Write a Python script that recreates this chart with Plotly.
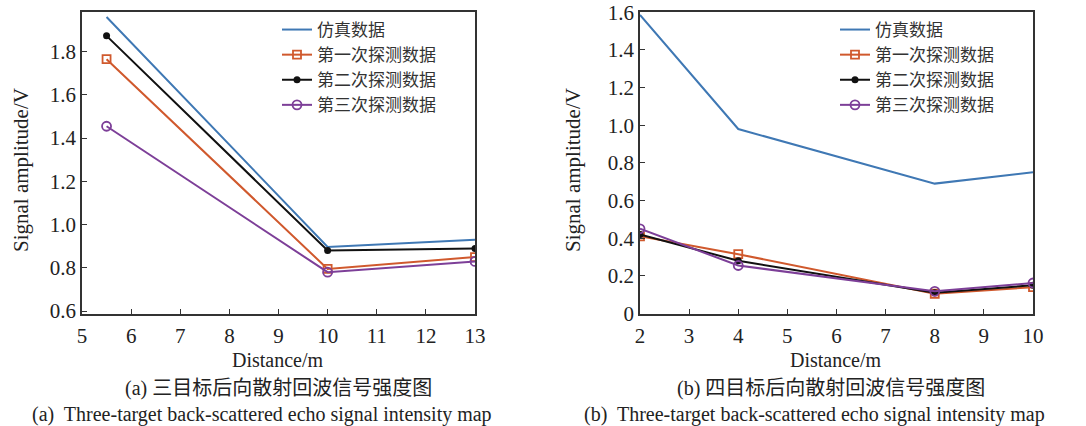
import plotly.graph_objects as go

# ---- data ----
names = ["仿真数据", "第一次探测数据", "第二次探测数据", "第三次探测数据"]

a_x = [5.5, 10, 13]
a_sim = [1.96, 0.897, 0.93]
a_first = [1.765, 0.795, 0.85]
a_second = [1.873, 0.88, 0.89]
a_third = [1.455, 0.78, 0.83]

b_x = [2, 4, 8, 10]
b_sim = [1.586, 0.98, 0.69, 0.75]
b_first = [0.41, 0.315, 0.105, 0.14]
b_second = [0.42, 0.28, 0.11, 0.15]
b_third = [0.45, 0.255, 0.118, 0.162]

a_yticks = [0.6, 0.8, 1.0, 1.2, 1.4, 1.6, 1.8]
a_yticktext = ["0.6", "0.8", "1.0", "1.2", "1.4", "1.6", "1.8"]
b_yticks = [0, 0.2, 0.4, 0.6, 0.8, 1.0, 1.2, 1.4, 1.6]
b_yticktext = ["0", "0.2", "0.4", "0.6", "0.8", "1.0", "1.2", "1.4", "1.6"]

cap_a_cn = "(a) 三目标后向散射回波信号强度图"
cap_a_en = "(a)  Three-target back-scattered echo signal intensity map"
cap_b_cn = "(b) 四目标后向散射回波信号强度图"
cap_b_en = "(b)  Three-target back-scattered echo signal intensity map"

# ---- styles ----
colors = ["#3f78b4", "#d0592d", "#111111", "#7d3f98"]
markers = [None,
           dict(symbol="square-open", size=8, color=colors[1], line=dict(width=1.8)),
           dict(symbol="circle", size=7, color=colors[2]),
           dict(symbol="circle-open", size=9, color=colors[3], line=dict(width=1.8))]
FONT = "'Liberation Serif', 'Times New Roman', serif"
CJK = "'Liberation Serif', 'Noto Sans CJK SC', serif"
W, H = 1086, 426

fig = go.Figure()

def add_series(xs, ys_list, xa, ya, legend):
    for i, ys in enumerate(ys_list):
        kw = dict(mode="lines" if markers[i] is None else "lines+markers")
        if markers[i] is not None:
            kw["marker"] = markers[i]
        fig.add_trace(go.Scatter(x=xs, y=ys, name=names[i], xaxis=xa, yaxis=ya,
                                 line=dict(color=colors[i], width=2),
                                 legend=legend, **kw))

add_series(a_x, [a_sim, a_first, a_second, a_third], "x", "y", "legend")
add_series(b_x, [b_sim, b_first, b_second, b_third], "x2", "y2", "legend2")

axis_common = dict(showline=True, linecolor="#333333", linewidth=1.5, mirror=True,
                   ticks="inside", ticklen=5, tickcolor="#333333", showgrid=False,
                   zeroline=False, automargin=False,
                   tickfont=dict(family=FONT, size=21, color="#222222"))
xaxis_extra = dict(ticklabelstandoff=3)

ydom = [1 - 313.5 / H, 1 - 12.3 / H]
leg_common = dict(yanchor="top", xanchor="left", bgcolor="rgba(0,0,0,0)",
                  font=dict(family="'Noto Sans CJK SC'", size=17, color="#333333"),
                  tracegroupgap=0, itemwidth=30)
fig.update_layout(
    template="none",
    width=W, height=H, margin=dict(l=0, r=0, t=0, b=0, pad=0),
    paper_bgcolor="white", plot_bgcolor="white",
    font=dict(family=FONT, color="#222222"),
    xaxis=dict(domain=[82 / W, 475 / W], range=[5, 13], dtick=1, anchor="y",
               **axis_common, **xaxis_extra),
    yaxis=dict(domain=ydom, range=[0.589, 1.982], tickvals=a_yticks, ticktext=a_yticktext,
               anchor="x", **axis_common),
    xaxis2=dict(domain=[640 / W, 1033 / W], range=[2, 10], dtick=1, anchor="y2",
                **axis_common, **xaxis_extra),
    yaxis2=dict(domain=ydom, range=[0, 1.6], tickvals=b_yticks, ticktext=b_yticktext,
                anchor="x2", **axis_common),
    legend=dict(x=277 / W, y=1 - 12 / H, **leg_common),
    legend2=dict(x=835 / W, y=1 - 12 / H, **leg_common),
)

ann_font = dict(family=FONT, size=20, color="#222222")
cap_font = dict(family=CJK, size=20, color="#222222")
anns = [
    dict(text="Distance/m", x=278 / W, y=1 - 360 / H, font=ann_font),
    dict(text="Distance/m", x=836 / W, y=1 - 360 / H, font=ann_font),
    dict(text="Signal amplitude/V", x=21 / W, y=1 - 170 / H, textangle=-90,
         font=dict(family=FONT, size=21, color="#222222")),
    dict(text="Signal amplitude/V", x=573 / W, y=1 - 170 / H, textangle=-90,
         font=dict(family=FONT, size=21, color="#222222")),
    dict(text=cap_a_cn, x=278 / W, y=1 - 388 / H, font=cap_font),
    dict(text=cap_a_en, x=262 / W, y=1 - 414 / H, font=cap_font),
    dict(text=cap_b_cn, x=831 / W, y=1 - 388 / H, font=cap_font),
    dict(text=cap_b_en, x=814 / W, y=1 - 414 / H, font=cap_font),
]
for a in anns:
    fig.add_annotation(xref="paper", yref="paper", showarrow=False,
                       xanchor="center", yanchor="middle", **a)

fig.write_html("out.html")
